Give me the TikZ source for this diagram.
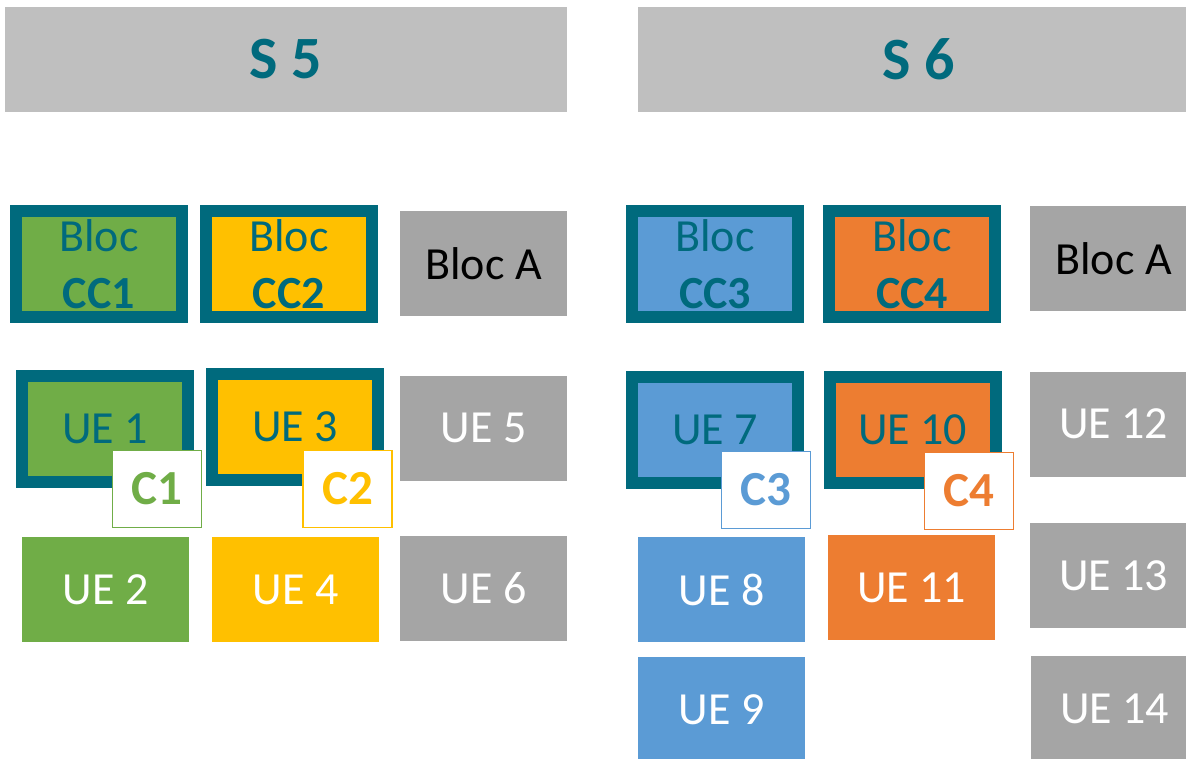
\documentclass[tikz,border=0pt]{standalone}
\usepackage{fontspec}
\setmainfont{Carlito}
\definecolor{teal}{RGB}{0,106,125}
\definecolor{hdrgray}{HTML}{BFBFBF}
\definecolor{boxgray}{HTML}{A5A5A5}
\definecolor{cgreen}{HTML}{70AD47}
\definecolor{cyellow}{HTML}{FFC000}
\definecolor{cblue}{HTML}{5B9BD5}
\definecolor{corange}{HTML}{ED7D31}
\tikzset{
  hdr/.style={fill=hdrgray, text=teal, inner sep=0pt, minimum width=562pt, minimum height=105pt,
    font=\fontsize{60}{72}\selectfont\bfseries},
  ccbox/.style={draw=teal, line width=12pt, inner sep=0pt, minimum width=166pt, minimum height=106pt,
    text=teal, align=center, font=\fontsize{46}{57}\selectfont},
  plainbox/.style={inner sep=0pt, minimum width=167pt, minimum height=105pt, text=white,
    font=\fontsize{46}{57}\selectfont},
  tag/.style={fill=white, draw=#1, text=#1, line width=1.5pt, inner sep=0pt, minimum width=89pt,
    minimum height=77pt, font=\fontsize{49}{58}\selectfont\bfseries},
}
\begin{document}
\begin{tikzpicture}[x=1pt,y=-1pt]
\clip (0,0) rectangle (1186,759);
\fill[white] (0,0) rectangle (1186,759);
% headers
\node[hdr] (s5) at (286,59.5) {S 5};
\node[hdr] (s6) at (919,59.5) {S 6};
% S5 row 1
\node[ccbox, fill=cgreen] (cc1) at (99,264) {Bloc\\\textbf{CC1}};
\node[ccbox, fill=cyellow] (cc2) at (289,264) {Bloc\\\textbf{CC2}};
\node[plainbox, fill=boxgray, text=black] (blocA1) at (483.5,264) {Bloc A};
% S5 row 2
\node[ccbox, fill=cgreen] (ue1) at (105,429) {UE 1};
\node[ccbox, fill=cyellow] (ue3) at (295,426.5) {UE 3};
\node[plainbox, fill=boxgray] (ue5) at (483.5,428) {UE 5};
\node[tag=cgreen] (c1) at (157,489) {C1};
\node[tag=cyellow] (c2) at (347.5,489) {C2};
% S5 row 3
\node[plainbox, fill=cgreen] (ue2) at (105.5,589.5) {UE 2};
\node[plainbox, fill=cyellow] (ue4) at (295.5,589.5) {UE 4};
\node[plainbox, fill=boxgray] (ue6) at (483.5,588) {UE 6};
% S6 row 1
\node[ccbox, fill=cblue] (cc3) at (715,264.5) {Bloc\\\textbf{CC3}};
\node[ccbox, fill=corange] (cc4) at (912,264.5) {Bloc\\\textbf{CC4}};
\node[plainbox, fill=boxgray, text=black] (blocA2) at (1113.5,259) {Bloc A};
% S6 row 2
\node[ccbox, fill=cblue] (ue7) at (715,429.5) {UE 7};
\node[ccbox, fill=corange] (ue10) at (912.5,429.5) {UE 10};
\node[plainbox, fill=boxgray] (ue12) at (1113.5,424) {UE 12};
\node[tag=cblue] (c3) at (766,490) {C3};
\node[tag=corange] (c4) at (969,491) {C4};
% S6 row 3
\node[plainbox, fill=cblue] (ue8) at (721.5,589.5) {UE 8};
\node[plainbox, fill=corange] (ue11) at (911.5,587.5) {UE 11};
\node[plainbox, fill=boxgray] (ue13) at (1113.5,575.5) {UE 13};
% S6 row 4
\node[plainbox, fill=cblue] (ue9) at (721.5,709.5) {UE 9};
\node[plainbox, fill=boxgray] (ue14) at (1114.5,708.5) {UE 14};
\end{tikzpicture}
\end{document}
